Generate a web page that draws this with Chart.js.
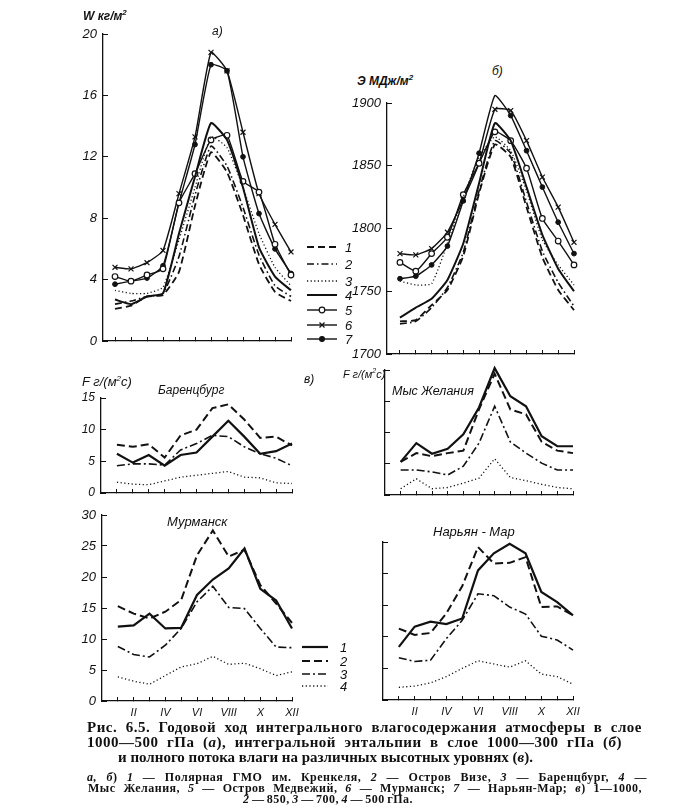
<!DOCTYPE html>
<html>
<head>
<meta charset="utf-8">
<script src="https://cdn.jsdelivr.net/npm/chart.js@4.4.0/dist/chart.umd.min.js"></script>
<style>
body{margin:0;background:#fff;}
#page{position:relative;width:676px;height:810px;overflow:hidden;background:#fff;color:#111;font-family:"Liberation Sans",Arial,sans-serif;}
canvas{position:absolute;}
.t{position:absolute;font-style:italic;white-space:nowrap;line-height:1;}
.b{font-weight:bold;}
.cap{position:absolute;display:inline-block;white-space:nowrap;font-family:"Liberation Serif","DejaVu Serif",serif;font-weight:bold;line-height:1;}
svg{position:absolute;overflow:visible;}
</style>
</head>
<body>
<div id="page">
<canvas id="chA"></canvas>
<canvas id="chB"></canvas>
<canvas id="chBarents"></canvas>
<canvas id="chZhel"></canvas>
<canvas id="chMurm"></canvas>
<canvas id="chNaryan"></canvas>

<div class="t b" style="left:83px;top:9px;font-size:12px;">W кг/м<sup style="font-size:8px">2</sup></div>
<div class="t" style="left:212px;top:25px;font-size:12px;">а)</div>
<div class="t b" style="left:357px;top:74px;font-size:12px;">Э МДж/м<sup style="font-size:8px">2</sup></div>
<div class="t" style="left:492px;top:65px;font-size:12px;">б)</div>

<div class="t" style="left:82px;top:375px;font-size:13px;">F г/(м<sup style="font-size:8px">2</sup>с)</div>
<div class="t" style="left:304px;top:373px;font-size:12px;">в)</div>
<div class="t" style="left:158px;top:384px;font-size:12px;">Баренцбург</div>
<div class="t" style="left:343px;top:367px;font-size:11px;">F г/(м<sup style="font-size:7px">2</sup>с)</div>
<div class="t" style="left:392px;top:385px;font-size:12.5px;">Мыс Желания</div>
<div class="t" style="left:167px;top:515px;font-size:13px;">Мурманск</div>
<div class="t" style="left:433px;top:525px;font-size:13px;">Нарьян - Мар</div>

<svg id="legA" style="left:300px;top:235px;" width="60" height="115"></svg>
<svg id="legF" style="left:295px;top:638px;" width="55" height="60"></svg>

<div class="cap" data-w="555" style="left:87px;top:720px;font-size:15px;letter-spacing:0.5px;">Рис. 6.5. Годовой ход интегрального влагосодержания атмосферы в слое</div>
<div class="cap" data-w="535" style="left:87px;top:735px;font-size:15px;letter-spacing:0.5px;">1000—500 гПа (<i>а</i>), интегральной энтальпии в слое 1000—300 гПа (<i>б</i>)</div>
<div class="cap" data-w="415" style="left:118px;top:750px;font-size:15px;">и полного потока влаги на различных высотных уровнях (<i>в</i>).</div>
<div class="cap" data-w="560" style="left:87px;top:771px;font-size:12px;letter-spacing:0.5px;"><i>а, б</i>) <i>1</i> — Полярная ГМО им. Кренкеля, <i>2</i> — Остров Визе, <i>3</i> — Баренцбург, <i>4</i> —</div>
<div class="cap" data-w="554" style="left:88px;top:782px;font-size:12px;letter-spacing:0.5px;">Мыс Желания, <i>5</i> — Остров Медвежий, <i>6</i> — Мурманск; <i>7</i> — Нарьян-Мар; <i>в</i>) 1—1000,</div>
<div class="cap" data-w="170" style="left:243px;top:793px;font-size:12px;letter-spacing:0.5px;"><i>2</i> — 850, <i>3</i> — 700, <i>4</i> — 500 гПа.</div>
</div>

<script>
const ink = '#111';

const months = [1, 2, 3, 4, 5, 6, 7, 8, 9, 10, 11, 12];
const romanLabels = ['', 'II', '', 'IV', '', 'VI', '', 'VIII', '', 'X', '', 'XII'];

// а) влагосодержание W, кг/м2 (слой 1000-500 гПа)
const wPolar  = [2.1, 2.3, 2.9, 3.0, 4.5, 8.8, 12.3, 11.0, 8.2, 5.0, 3.2, 2.6];
const wVize   = [2.4, 2.6, 2.9, 3.1, 5.5, 9.5, 12.7, 11.4, 8.7, 5.6, 3.6, 2.9];
const wBarents= [3.3, 3.1, 3.1, 3.5, 6.6, 10.0, 13.3, 12.6, 10.0, 7.0, 4.8, 3.6];
const wZhel   = [2.7, 2.4, 2.9, 3.1, 7.0, 10.7, 14.2, 13.1, 10.0, 6.1, 4.2, 3.3];
const wMedv   = [4.2, 3.9, 4.3, 4.7, 9.0, 10.9, 13.1, 13.4, 10.4, 9.7, 6.3, 4.3];
const wMurm   = [4.8, 4.7, 5.1, 5.9, 9.6, 13.3, 18.8, 17.6, 13.6, 9.6, 7.6, 5.8];
const wNaryan = [3.7, 3.9, 4.1, 4.9, 9.0, 12.8, 18.0, 17.6, 12.0, 8.3, 6.0, 4.4];

// б) энтальпия Э, МДж/м2 (слой 1000-300 гПа)
const ePolar  = [1726, 1727, 1739, 1751, 1778, 1828, 1867, 1857, 1817, 1777, 1751, 1735];
const eVize   = [1724, 1726, 1737, 1753, 1781, 1830, 1870, 1860, 1821, 1782, 1757, 1738];
const eBarents= [1758, 1755, 1756, 1788, 1825, 1857, 1873, 1862, 1830, 1791, 1771, 1755];
const eZhel   = [1729, 1737, 1744, 1759, 1788, 1836, 1884, 1870, 1833, 1795, 1768, 1750];
const eMedv   = [1773, 1766, 1780, 1793, 1827, 1852, 1877, 1870, 1848, 1808, 1790, 1771];
const eMurm   = [1780, 1779, 1784, 1797, 1823, 1852, 1895, 1894, 1870, 1841, 1817, 1789];
const eNaryan = [1760, 1762, 1771, 1786, 1822, 1860, 1906, 1890, 1862, 1833, 1805, 1780];

// в) поток влаги F, г/(м2 с): 1000, 850, 700, 500 гПа
const fBarents1000 = [6.2, 4.8, 6.0, 4.3, 6.0, 6.4, 8.9, 11.4, 8.9, 6.2, 6.6, 7.8];
const fBarents850  = [7.6, 7.3, 7.7, 5.6, 9.1, 10.0, 13.4, 14.0, 11.6, 8.7, 8.9, 7.5];
const fBarents700  = [4.3, 4.6, 4.6, 4.4, 6.8, 7.8, 9.1, 8.9, 7.3, 6.2, 5.5, 4.3];
const fBarents500  = [1.7, 1.4, 1.3, 1.9, 2.5, 2.8, 3.1, 3.4, 2.5, 2.4, 1.6, 1.5];

const fZhel1000 = [5.3, 8.3, 6.6, 7.4, 9.7, 14.0, 20.3, 15.8, 14.2, 9.4, 7.8, 7.8];
const fZhel850  = [5.3, 6.7, 6.2, 6.7, 7.1, 13.7, 19.4, 13.7, 12.9, 8.5, 7.1, 6.7];
const fZhel700  = [4.0, 4.0, 3.7, 3.2, 4.6, 8.3, 14.2, 8.5, 6.7, 5.1, 4.0, 4.0];
const fZhel500  = [1.0, 2.6, 1.0, 1.2, 1.9, 2.7, 5.8, 2.8, 2.3, 1.7, 1.2, 1.0];

const fMurm1000 = [12.0, 12.2, 14.1, 11.7, 11.8, 17.1, 19.6, 21.4, 24.6, 18.1, 16.2, 11.7];
const fMurm850  = [15.3, 14.1, 13.3, 14.4, 16.3, 23.5, 27.5, 23.3, 24.4, 18.7, 15.7, 12.6];
const fMurm700  = [8.8, 7.5, 7.1, 9.0, 11.7, 16.0, 18.5, 15.1, 14.9, 11.7, 8.7, 8.6];
const fMurm500  = [3.9, 3.2, 2.7, 4.1, 5.5, 6.0, 7.2, 5.9, 6.1, 5.2, 4.1, 4.7];

const fNaryan1000 = [8.4, 11.6, 12.4, 12.0, 12.9, 20.5, 23.2, 24.7, 23.2, 17.1, 15.5, 13.4];
const fNaryan850  = [11.3, 10.3, 10.6, 13.7, 18.0, 24.2, 21.6, 21.7, 22.6, 14.7, 14.8, 13.4];
const fNaryan700  = [6.7, 6.1, 6.3, 9.7, 12.6, 16.8, 16.5, 14.7, 13.6, 10.1, 9.5, 7.9];
const fNaryan500  = [2.0, 2.2, 2.7, 3.7, 5.0, 6.2, 5.7, 5.2, 6.2, 4.1, 3.7, 2.5];

// line styles
const dashed  = { borderDash: [7, 4], borderWidth: 1.8 };
const dashDot = { borderDash: [7, 3, 1.5, 3], borderWidth: 1.6 };
const dotted  = { borderDash: [1.2, 2.4], borderWidth: 1.3 };
const solid   = { borderDash: [], borderWidth: 2 };
const openDot = { borderWidth: 1.4, pointStyle: 'circle', pointRadius: 2.8, pointBackgroundColor: '#fff', pointBorderWidth: 1.2 };
const crossed = { borderWidth: 1.4, pointStyle: 'crossRot', pointRadius: 3.5, pointBorderWidth: 1.2 };
const fullDot = { borderWidth: 1.4, pointStyle: 'circle', pointRadius: 2.4, pointBackgroundColor: ink, pointBorderWidth: 1 };

function series(values, style) {
    return Object.assign({ data: values, borderColor: ink, pointBorderColor: ink, fill: false, clip: false, pointRadius: 0 }, style);
}

function panel(id, box, area, xMin, yMin, yMax, yStep, showY, xLabels, datasets, tension, tickSize) {
    const cv = document.getElementById(id);
    cv.width = box[2];
    cv.height = box[3];
    cv.style.left = box[0] + 'px';
    cv.style.top = box[1] + 'px';

    const tickFont = { family: 'Liberation Sans', style: 'italic', size: tickSize };

    return new Chart(cv, {
        type: 'line',
        data: { labels: months, datasets: datasets },
        options: {
            responsive: false,
            animation: false,
            events: [],
            layout: { padding: { left: 0, top: area[1] - box[1], right: box[0] + box[2] - area[2], bottom: 0 } },
            plugins: { legend: { display: false }, tooltip: { enabled: false } },
            elements: { line: { tension: tension } },
            scales: {
                x: {
                    type: 'linear',
                    min: xMin,
                    max: 12,
                    afterBuildTicks: s => { s.ticks = months.map(v => ({ value: v })); },
                    afterFit: s => { s.height = box[1] + box[3] - area[3]; s.paddingLeft = 0; s.paddingRight = 0; },
                    border: { display: true, color: ink, width: 1.3 },
                    grid: { drawOnChartArea: false, tickLength: -4, color: ink, lineWidth: 1 },
                    ticks: {
                        autoSkip: false, maxRotation: 0, padding: 9, color: ink,
                        font: { family: 'Liberation Sans', style: 'italic', size: 11 },
                        callback: v => xLabels ? (xLabels[v - 1] || '') : ''
                    }
                },
                y: {
                    min: yMin,
                    max: yMax,
                    afterFit: s => { s.width = area[0] - box[0]; s.paddingTop = 0; s.paddingBottom = 0; },
                    border: { display: true, color: ink, width: 1.3 },
                    grid: { drawOnChartArea: false, tickLength: -5, color: ink, lineWidth: 1 },
                    ticks: {
                        stepSize: yStep, padding: 11, color: ink, font: tickFont,
                        callback: v => showY ? String(v) : ''
                    }
                }
            }
        }
    });
}

// а)
panel('chA', [55, 20, 250, 340], [103, 34, 291, 341], 0.25, 0, 20, 4, true, null, [
    series(wPolar, dashed),
    series(wVize, dashDot),
    series(wBarents, dotted),
    series(wZhel, solid),
    series(wMedv, openDot),
    series(wMurm, crossed),
    series(wNaryan, fullDot)
], 0.15, 13);

// б)
panel('chB', [335, 90, 250, 275], [387, 103, 574, 354], 0.18, 1700, 1900, 50, true, null, [
    series(ePolar, dashed),
    series(eVize, dashDot),
    series(eBarents, dotted),
    series(eZhel, solid),
    series(eMedv, openDot),
    series(eMurm, crossed),
    series(eNaryan, fullDot)
], 0.15, 13);

// в)
const fluxStyles = [
    { borderDash: [], borderWidth: 2.2 },
    { borderDash: [8, 4], borderWidth: 2 },
    { borderDash: [8, 3, 2, 3], borderWidth: 1.6 },
    { borderDash: [1.2, 2.5], borderWidth: 1.3 }
];

panel('chBarents', [60, 385, 245, 115], [101, 398, 292, 493], 0, 0, 15, 5, true, null,
    [fBarents1000, fBarents850, fBarents700, fBarents500].map((d, i) => series(d, fluxStyles[i])), 0, 12);

panel('chZhel', [345, 360, 245, 140], [385, 370, 573, 495], 0, 0, 20, 5, false, null,
    [fZhel1000, fZhel850, fZhel700, fZhel500].map((d, i) => series(d, fluxStyles[i])), 0, 12);

panel('chMurm', [60, 505, 245, 220], [102, 515, 292, 701], 0, 0, 30, 5, true, romanLabels,
    [fMurm1000, fMurm850, fMurm700, fMurm500].map((d, i) => series(d, fluxStyles[i])), 0, 13);

panel('chNaryan', [345, 530, 245, 195], [383, 542, 573, 700], 0, 0, 25, 5, false, romanLabels,
    [fNaryan1000, fNaryan850, fNaryan700, fNaryan500].map((d, i) => series(d, fluxStyles[i])), 0, 13);

// legends
function legend(svgId, rows, x1, x2, numX, fontSize) {
    const svg = document.getElementById(svgId);
    const ns = 'http://www.w3.org/2000/svg';
    rows.forEach(r => {
        const ln = document.createElementNS(ns, 'line');
        ln.setAttribute('x1', x1); ln.setAttribute('x2', x2);
        ln.setAttribute('y1', r.y); ln.setAttribute('y2', r.y);
        ln.setAttribute('stroke', ink);
        ln.setAttribute('stroke-width', r.w);
        if (r.dash) ln.setAttribute('stroke-dasharray', r.dash);
        svg.appendChild(ln);
        const cx = (x1 + x2) / 2;
        if (r.mark === 'open' || r.mark === 'full') {
            const c = document.createElementNS(ns, 'circle');
            c.setAttribute('cx', cx); c.setAttribute('cy', r.y); c.setAttribute('r', r.mark === 'open' ? 2.8 : 2.4);
            c.setAttribute('fill', r.mark === 'open' ? '#fff' : ink);
            c.setAttribute('stroke', ink); c.setAttribute('stroke-width', 1.2);
            svg.appendChild(c);
        }
        if (r.mark === 'cross') {
            const p = document.createElementNS(ns, 'path');
            p.setAttribute('d', `M${cx - 2.5} ${r.y - 2.5}L${cx + 2.5} ${r.y + 2.5}M${cx - 2.5} ${r.y + 2.5}L${cx + 2.5} ${r.y - 2.5}`);
            p.setAttribute('stroke', ink); p.setAttribute('stroke-width', 1.2);
            svg.appendChild(p);
        }
        const t = document.createElementNS(ns, 'text');
        t.setAttribute('x', numX); t.setAttribute('y', r.y + fontSize * 0.35);
        t.setAttribute('font-family', 'Liberation Sans');
        t.setAttribute('font-style', 'italic');
        t.setAttribute('font-size', fontSize);
        t.setAttribute('fill', ink);
        t.textContent = r.label;
        svg.appendChild(t);
    });
}

legend('legA', [
    { y: 12, label: '1', dash: '7 4', w: 1.8 },
    { y: 29, label: '2', dash: '7 3 1.5 3', w: 1.6 },
    { y: 46, label: '3', dash: '1.2 2.4', w: 1.3 },
    { y: 60, label: '4', w: 2 },
    { y: 75, label: '5', w: 1.4, mark: 'open' },
    { y: 90, label: '6', w: 1.4, mark: 'cross' },
    { y: 104, label: '7', w: 1.4, mark: 'full' }
], 7, 37, 45, 13);

legend('legF', [
    { y: 9, label: '1', w: 2.2 },
    { y: 23, label: '2', dash: '8 4', w: 2 },
    { y: 36, label: '3', dash: '8 3 2 3', w: 1.6 },
    { y: 48, label: '4', dash: '1.2 2.5', w: 1.3 }
], 7, 33, 45, 13);

// spread caption lines to their printed widths
function fitCaptions() {
    document.querySelectorAll('.cap').forEach(el => {
        el.style.wordSpacing = '0px';
        const natural = el.getBoundingClientRect().width;
        const gaps = (el.textContent.match(/ /g) || []).length;
        if (gaps) el.style.wordSpacing = ((+el.dataset.w - natural) / gaps) + 'px';
    });
}
fitCaptions();
document.fonts.ready.then(fitCaptions);
</script>
</body>
</html>
